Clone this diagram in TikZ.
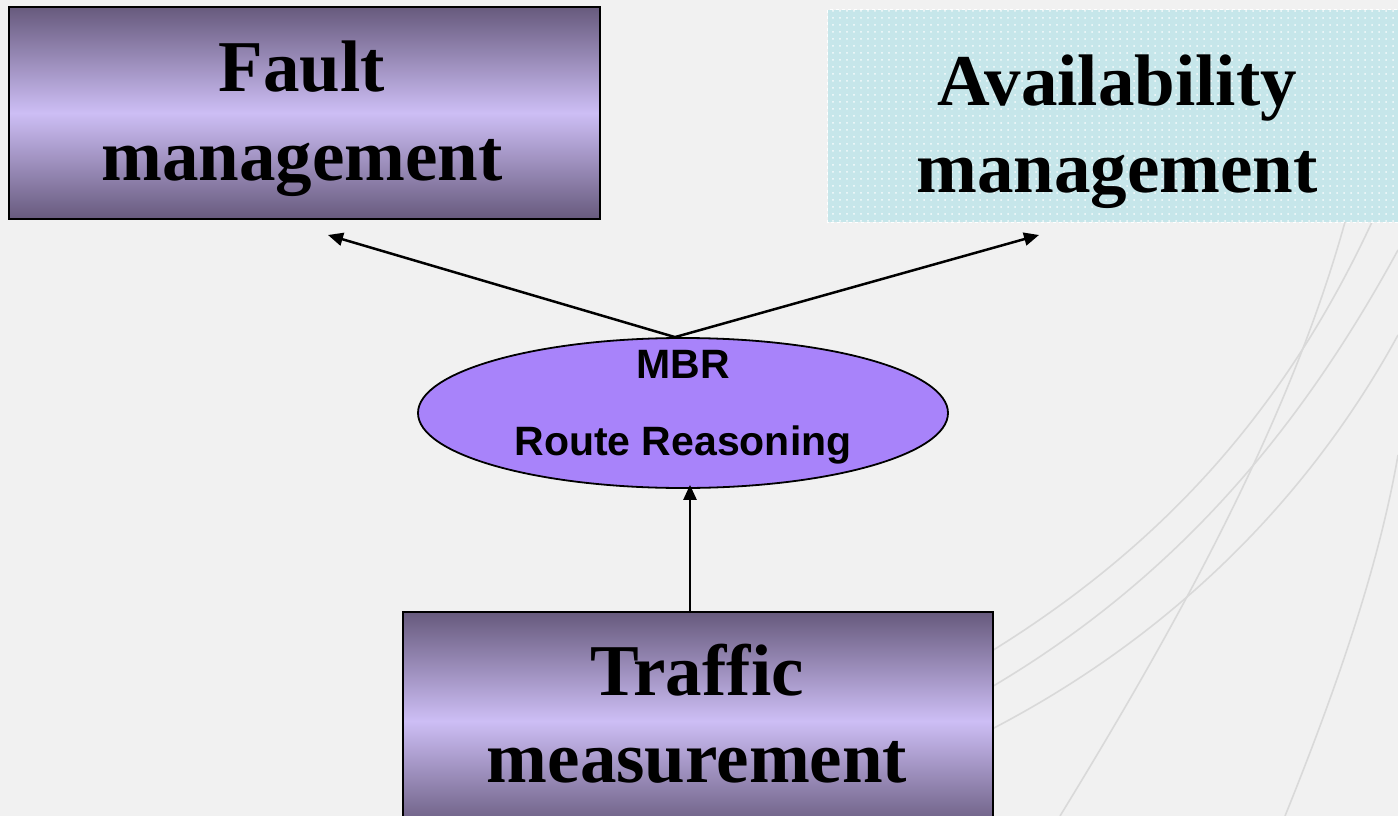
\documentclass[tikz,border=0pt]{standalone}
\usepackage{fontspec}
\setmainfont{Liberation Serif}
\newfontfamily\labelsans{Liberation Sans}
\usetikzlibrary{arrows.meta,patterns.meta,shapes.geometric}

\definecolor{paper}{HTML}{F1F1F1}
\definecolor{streak}{HTML}{D9D9D9}
\definecolor{plumdark}{HTML}{675A7D}
\definecolor{plumlight}{HTML}{CDBEF5}
\definecolor{aqua}{HTML}{C6E6EA}
\definecolor{lilac}{HTML}{A883FA}

\tikzset{
  plumbox/.style={draw=black, line width=2pt, rectangle, inner sep=0pt,
    top color=plumdark, bottom color=plumdark, middle color=plumlight},
  aquabox/.style={rectangle, inner sep=0pt, fill=aqua,
    postaction={pattern={Dots[radius=1pt,distance=7pt]}, pattern color=white!85!aqua}},
  bigtxt/.style={anchor=base, inner sep=0pt,
    font=\fontsize{73}{86}\selectfont\bfseries},
  smalltxt/.style={anchor=base, inner sep=0pt,
    font=\labelsans\fontsize{41}{48}\selectfont\bfseries},
  link/.style={line width=2.5pt, -{Triangle[length=15pt,width=13pt]}},
  faint/.style={draw=streak, line width=1.6pt},
}

\begin{document}
\begin{tikzpicture}[x=1pt,y=-1pt]
  \useasboundingbox (0,0) rectangle (1398,816);
  \clip (0,0) rectangle (1398,816);
  \fill[paper] (0,0) rectangle (1398,816);

  % faint sweeping strokes in the paper
  \draw[faint] (960,670) .. controls (1150,560) and (1280,420) .. (1372,222);
  \draw[faint] (960,705) .. controls (1170,590) and (1300,430) .. (1398,250);
  \draw[faint] (960,745) .. controls (1200,630) and (1330,460) .. (1398,335);
  \draw[faint] (1060,816) .. controls (1180,620) and (1290,420) .. (1345,222);
  \draw[faint] (1285,816) .. controls (1340,680) and (1380,560) .. (1398,455);

  % boxes
  \node[plumbox, minimum width=591pt, minimum height=212pt] (fault) at (304.5,113) {};
  \node[aquabox, minimum width=582pt, minimum height=212pt] (avail) at (1119,116) {};
  \draw[white, dashed, line width=1pt] (avail.north west) rectangle (avail.south east);
  \node[plumbox, minimum width=590pt, minimum height=218pt] (traffic) at (698,721) {};

  \node[bigtxt] (faultA) at (302,92) {Fault};
  \node[bigtxt] (faultB) at (302,180) {management};
  \node[bigtxt] (availA) at (1117,105) {Availability};
  \node[bigtxt] (availB) at (1117,192) {management};
  \node[bigtxt] (trafficA) at (697,695) {Traffic};
  \node[bigtxt] (trafficB) at (697,782) {measurement};

  % reasoning engine
  \node[ellipse, draw=black, line width=1.8pt, fill=lilac, inner sep=0pt,
        minimum width=530pt, minimum height=150pt] (mbr) at (683,413) {};
  \node[smalltxt] (mbrA) at (683,378) {MBR};
  \node[smalltxt] (mbrB) at (683,455) {Route Reasoning};

  % connectors
  \coordinate (apex) at ([xshift=-8pt]mbr.north);
  \coordinate (ftip) at (328,235);
  \coordinate (atip) at (1039,235);
  \draw[link] (apex) -- (ftip);
  \draw[link] (apex) -- (atip);
  \draw[link] ([xshift=-8pt]traffic.north) -- ([xshift=7pt,yshift=4pt]mbr.south);
\end{tikzpicture}
\end{document}
